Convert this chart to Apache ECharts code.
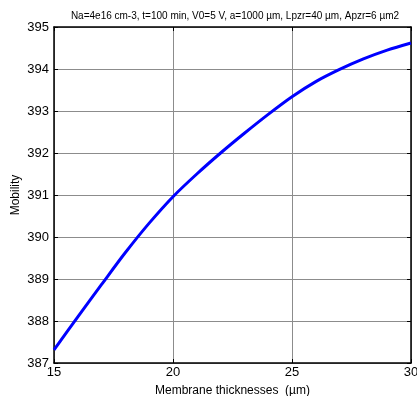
<!DOCTYPE html>
<html>
<head>
<meta charset="utf-8">
<script src="https://cdn.jsdelivr.net/npm/echarts@6/dist/echarts.min.js"></script>
<style>
  html, body { margin: 0; padding: 0; background: #fff; }
  #chart { width: 417px; height: 396px; }
</style>
</head>
<body>
<div id="chart"></div>
<script>
// membrane thickness (µm) and mobility
var thickness = [15, 16, 17, 18, 19, 20, 21, 22, 23, 24, 25, 26, 27, 28, 29, 30];
var mobility = [387.31, 388.1, 388.87, 389.63, 390.33, 390.96, 391.5, 392.0, 392.47, 392.92, 393.34, 393.7, 393.99, 394.24, 394.45, 394.62];
var titleText = 'Na=4e16 cm-3, t=100 min, V0=5 V, a=1000 µm, Lpzr=40 µm, Apzr=6 µm2';

var font = 'Liberation Sans, Arial, sans-serif';
var chart = echarts.init(document.getElementById('chart'));

var gridLine = { show: true, lineStyle: { color: '#8c8c8c', width: 1, type: 'solid' } };
var boxLine = { show: true, lineStyle: { color: '#000', width: 1.5 } };
var tick = { show: true, inside: true, length: 4, lineStyle: { color: '#000' } };

chart.setOption({
  animation: false,
  title: {
    text: titleText,
    left: 230, top: 6,
    textAlign: 'center',
    textStyle: { fontFamily: font, fontSize: 10, fontWeight: 'normal', color: '#000' }
  },
  grid: { left: 54, right: 6, top: 27, bottom: 33, containLabel: false, outerBoundsMode: 'none' },
  xAxis: [{
    type: 'value', min: 15, max: 30, interval: 5,
    name: 'Membrane thicknesses  (µm)',
    nameLocation: 'middle', nameGap: 22,
    nameTextStyle: { fontFamily: font, fontSize: 12, color: '#000' },
    axisLine: boxLine,
    axisTick: tick,
    axisLabel: { fontFamily: font, fontSize: 13, color: '#000', margin: 3 },
    splitLine: gridLine
  }, {
    type: 'value', min: 15, max: 30, interval: 5, position: 'top',
    axisLine: boxLine,
    axisTick: tick,
    axisLabel: { show: false },
    splitLine: { show: false }
  }],
  yAxis: [{
    type: 'value', min: 387, max: 395, interval: 1,
    name: 'Mobility',
    nameLocation: 'middle', nameGap: 32, nameRotate: 90, nameMoveOverlap: false,
    nameTextStyle: { fontFamily: font, fontSize: 12, color: '#000' },
    axisLine: boxLine,
    axisTick: tick,
    axisLabel: { fontFamily: font, fontSize: 13, color: '#000', margin: 5 },
    splitLine: gridLine
  }, {
    type: 'value', min: 387, max: 395, interval: 1, position: 'right',
    axisLine: boxLine,
    axisTick: tick,
    axisLabel: { show: false },
    splitLine: { show: false }
  }],
  series: [{
    type: 'line',
    smooth: 0.3,
    showSymbol: false,
    data: thickness.map(function (t, i) { return [t, mobility[i]]; }),
    lineStyle: { color: '#0000ff', width: 3 },
    itemStyle: { color: '#0000ff' }
  }]
});
</script>
</body>
</html>
